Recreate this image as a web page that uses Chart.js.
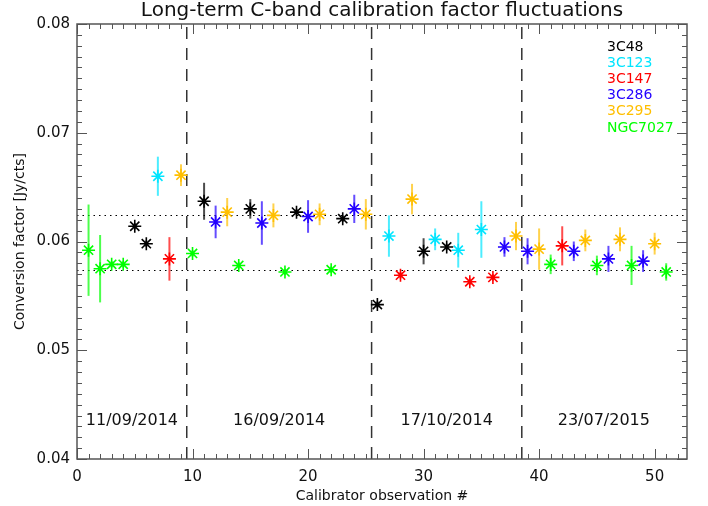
<!DOCTYPE html>
<html>
<head>
<meta charset="utf-8">
<script src="https://cdn.jsdelivr.net/npm/chart.js@4.4.1/dist/chart.umd.min.js"></script>
<style>
  html, body { margin: 0; padding: 0; background: #fff; }
  #wrap { width: 708px; height: 506px; }
</style>
</head>
<body>
<div id="wrap"><canvas id="chartCal" width="708" height="506"></canvas></div>
<script>
const sources = ['3C48', '3C123', '3C147', '3C286', '3C295', 'NGC7027'];
const colors = ['#000000', '#00e5ff', '#ff0000', '#2200ff', '#ffbf00', '#00ff00'];

const obs3C48 = [5, 6, 11, 15, 19, 23, 26, 30, 32];
const val3C48 = [0.0614, 0.0598, 0.0637, 0.0630, 0.0627, 0.0621, 0.0542, 0.0591, 0.0595];
const err3C48 = [0.0003, 0.0003, 0.0017, 0.0009, 0.0003, 0.0003, 0.0003, 0.0012, 0.0003];

const obs3C123 = [7, 27, 31, 33, 35];
const val3C123 = [0.0660, 0.0605, 0.0602, 0.0592, 0.0611];
const err3C123 = [0.0018, 0.0019, 0.0010, 0.0016, 0.0026];

const obs3C147 = [8, 28, 34, 36, 42];
const val3C147 = [0.0584, 0.0569, 0.0563, 0.0567, 0.0596];
const err3C147 = [0.0020, 0.0003, 0.0003, 0.0003, 0.0018];

const obs3C286 = [12, 16, 20, 24, 37, 39, 43, 46, 49];
const val3C286 = [0.0618, 0.0617, 0.0623, 0.0630, 0.0595, 0.0591, 0.0591, 0.0584, 0.0582];
const err3C286 = [0.0015, 0.0020, 0.0015, 0.0013, 0.0009, 0.0012, 0.0009, 0.0012, 0.0010];

const obs3C295 = [9, 13, 17, 21, 25, 29, 38, 40, 44, 47, 50];
const val3C295 = [0.0661, 0.0627, 0.0624, 0.0625, 0.0625, 0.0639, 0.0605, 0.0593, 0.0601, 0.0602, 0.0598];
const err3C295 = [0.0010, 0.0013, 0.0011, 0.0010, 0.0014, 0.0014, 0.0013, 0.0019, 0.0010, 0.0011, 0.0010];

const obsNGC7027 = [1, 2, 3, 4, 10, 14, 18, 22, 41, 45, 48, 51];
const valNGC7027 = [0.0592, 0.0575, 0.0579, 0.0579, 0.0589, 0.0578, 0.0572, 0.0574, 0.0579, 0.0578, 0.0578, 0.0572];
const errNGC7027 = [0.0042, 0.0031, 0.0003, 0.0003, 0.0003, 0.0003, 0.0003, 0.0003, 0.0009, 0.0009, 0.0018, 0.0008];

// session boundaries, date labels and the two reference levels
const sessionBreaks = [9.5, 25.5, 38.5];
const sessionDates = ['11/09/2014', '16/09/2014', '17/10/2014', '23/07/2015'];
const sessionCentres = [4.75, 17.5, 32, 45.6];
const dateLevel = 0.0435;
const refLevels = [0.0624, 0.0574];

const xTicks = [0, 10, 20, 30, 40, 50];
const yTicks = [0.04, 0.05, 0.06, 0.07, 0.08];

const allObs = [obs3C48, obs3C123, obs3C147, obs3C286, obs3C295, obsNGC7027];
const allVal = [val3C48, val3C123, val3C147, val3C286, val3C295, valNGC7027];
const allErr = [err3C48, err3C123, err3C147, err3C286, err3C295, errNGC7027];

const FONT = "'DejaVu Sans', sans-serif";

const datasets = sources.map((name, i) => ({
    label: name,
    data: allObs[i].map((o, j) => ({ x: o, y: allVal[i][j] })),
    errors: allErr[i],
    borderColor: colors[i],
    backgroundColor: colors[i],
    pointStyle: 'star',
    pointRadius: 6.5,
    pointBorderWidth: 1.6,
    showLine: false
}));

const errorBars = {
    id: 'errorBars',
    beforeDatasetsDraw(chart) {
        const { ctx, scales: { x, y } } = chart;
        ctx.save();
        // reference levels
        ctx.strokeStyle = '#000';
        ctx.lineWidth = 1;
        ctx.setLineDash([1.5, 4]);
        refLevels.forEach(v => {
            const py = Math.round(y.getPixelForValue(v)) + 0.5;
            ctx.beginPath(); ctx.moveTo(x.left, py); ctx.lineTo(x.right, py); ctx.stroke();
        });
        // session breaks
        ctx.strokeStyle = '#333';
        ctx.lineWidth = 1.5;
        ctx.setLineDash([12, 9]);
        sessionBreaks.forEach(v => {
            const px = x.getPixelForValue(v);
            ctx.beginPath(); ctx.moveTo(px, y.bottom); ctx.lineTo(px, y.top); ctx.stroke();
        });
        ctx.setLineDash([]);
        // dates
        ctx.fillStyle = '#111';
        ctx.font = '16px ' + FONT;
        ctx.textAlign = 'center';
        ctx.textBaseline = 'middle';
        sessionDates.forEach((d, i) => {
            ctx.fillText(d, x.getPixelForValue(sessionCentres[i]), y.getPixelForValue(dateLevel));
        });
        // error bars
        ctx.lineWidth = 2;
        chart.data.datasets.forEach(ds => {
            ctx.strokeStyle = ds.borderColor;
            ctx.globalAlpha = 0.7;
            ds.data.forEach((p, j) => {
                const e = ds.errors[j];
                const px = x.getPixelForValue(p.x);
                ctx.beginPath();
                ctx.moveTo(px, y.getPixelForValue(p.y - e));
                ctx.lineTo(px, y.getPixelForValue(p.y + e));
                ctx.stroke();
            });
        });
        ctx.restore();
    },
    afterDraw(chart) {
        const { ctx, scales: { x, y } } = chart;
        ctx.save();
        // frame with inward ticks on all sides
        ctx.strokeStyle = '#555';
        ctx.lineWidth = 1.5;
        ctx.strokeRect(x.left, y.top, x.right - x.left, y.bottom - y.top);
        ctx.lineWidth = 1;
        for (let v = 0; v <= x.max; v += 1) {
            const px = Math.round(x.getPixelForValue(v)) + 0.5;
            const len = v % 10 === 0 ? 10 : 5;
            ctx.beginPath();
            ctx.moveTo(px, y.bottom); ctx.lineTo(px, y.bottom - len);
            ctx.moveTo(px, y.top); ctx.lineTo(px, y.top + len);
            ctx.stroke();
        }
        for (let k = 0; k <= 40; k++) {
            const py = Math.round(y.getPixelForValue(0.04 + k * 0.001)) + 0.5;
            const len = k % 10 === 0 ? 10 : 5;
            ctx.beginPath();
            ctx.moveTo(x.left, py); ctx.lineTo(x.left + len, py);
            ctx.moveTo(x.right, py); ctx.lineTo(x.right - len, py);
            ctx.stroke();
        }
        // legend
        ctx.font = '14px ' + FONT;
        ctx.textAlign = 'left';
        ctx.textBaseline = 'middle';
        sources.forEach((s, i) => {
            ctx.fillStyle = colors[i];
            ctx.fillText(s, 607, 47 + i * 16.2);
        });
        // title
        ctx.fillStyle = '#111';
        ctx.font = '20px ' + FONT;
        ctx.textAlign = 'center';
        ctx.fillText('Long-term C-band calibration factor fluctuations', (x.left + x.right) / 2, 11);
        ctx.restore();
    }
};

new Chart(document.getElementById('chartCal').getContext('2d'), {
    type: 'scatter',
    data: { datasets: datasets },
    options: {
        responsive: false,
        animation: false,
        layout: { padding: { top: 24, right: 21, left: 0, bottom: 0 } },
        plugins: { legend: { display: false }, tooltip: { enabled: false } },
        scales: {
            x: {
                type: 'linear',
                min: 0,
                max: 52.8,
                afterFit: s => { s.height = 47; },
                afterBuildTicks: s => { s.ticks = xTicks.map(v => ({ value: v })); },
                grid: { display: false, drawTicks: false },
                border: { display: false },
                ticks: { color: '#111', font: { family: FONT, size: 15 }, padding: 9, maxRotation: 0 },
                title: { display: true, text: 'Calibrator observation #', color: '#111',
                    font: { family: FONT, size: 14 }, padding: { top: 0, bottom: 1 } }
            },
            y: {
                min: 0.04,
                max: 0.08,
                afterFit: s => { s.width = 77; },
                afterBuildTicks: s => { s.ticks = yTicks.map(v => ({ value: v })); },
                grid: { display: false, drawTicks: false },
                border: { display: false },
                ticks: { color: '#111', font: { family: FONT, size: 15 }, padding: 7,
                    callback: v => v.toFixed(2) },
                title: { display: true, text: 'Conversion factor [Jy/cts]', color: '#111',
                    font: { family: FONT, size: 14 }, padding: { top: 12, bottom: 0 } }
            }
        }
    },
    plugins: [errorBars]
});
</script>
</body>
</html>
